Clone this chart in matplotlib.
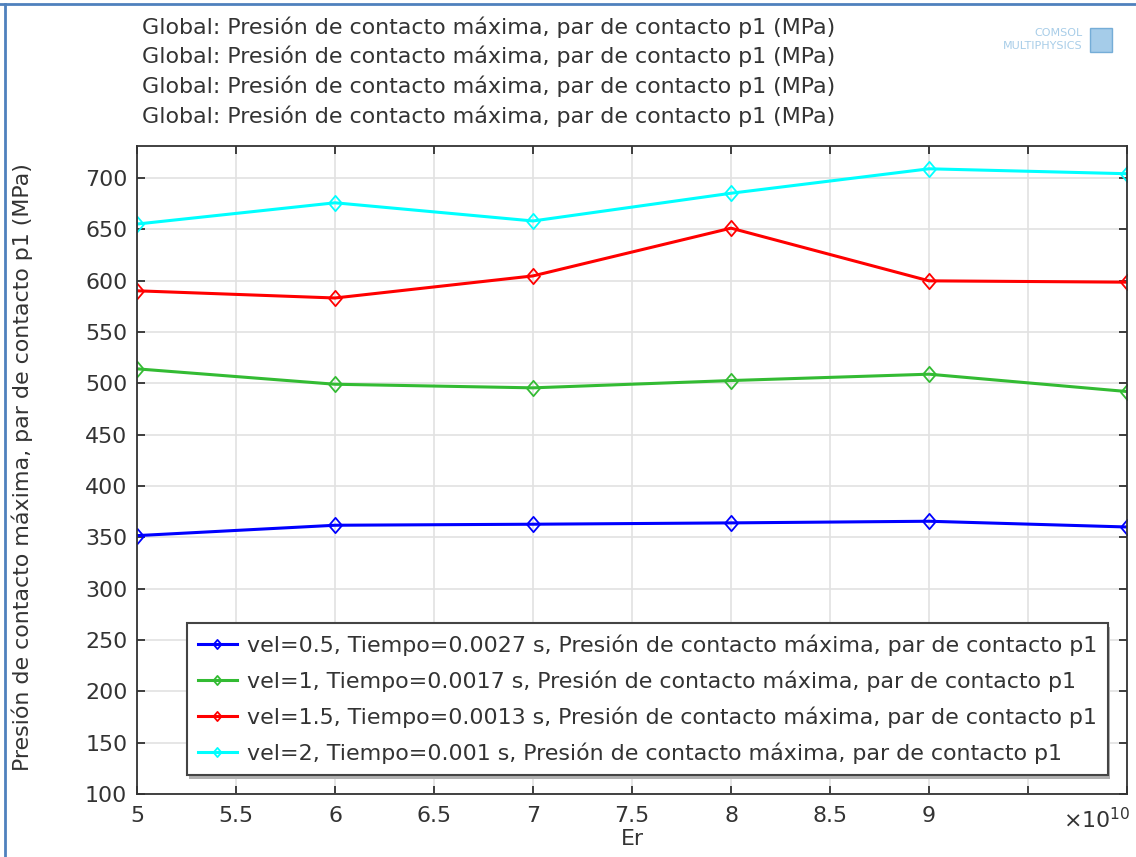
import matplotlib
matplotlib.use("Agg")
import matplotlib.pyplot as plt
from matplotlib.patches import Rectangle
from matplotlib.path import Path
import numpy as np

# Young's modulus values (Pa)
er = [5e10, 6e10, 7e10, 8e10, 9e10, 10e10]

# Maximum contact pressure (MPa) for each impact velocity
p_vel05 = [351.6, 361.7, 362.7, 364.0, 365.6, 360.0]
p_vel1 = [514.0, 499.0, 495.5, 502.6, 508.8, 491.9]
p_vel15 = [590.0, 583.0, 604.5, 651.0, 599.7, 598.4]
p_vel2 = [655.0, 675.7, 658.0, 685.0, 708.8, 704.0]

series_labels = [
    "vel=0.5, Tiempo=0.0027 s, Presión de contacto máxima, par de contacto p1",
    "vel=1, Tiempo=0.0017 s, Presión de contacto máxima, par de contacto p1",
    "vel=1.5, Tiempo=0.0013 s, Presión de contacto máxima, par de contacto p1",
    "vel=2, Tiempo=0.001 s, Presión de contacto máxima, par de contacto p1",
]
series_colors = ["#0000ff", "#33bb33", "#ff0000", "#00ffff"]

title_line = "Global: Presión de contacto máxima, par de contacto p1 (MPa)"
x_ticks = [5, 5.5, 6, 6.5, 7, 7.5, 8, 8.5, 9, 9.5, 10]
x_tick_labels = ["5", "5.5", "6", "6.5", "7", "7.5", "8", "8.5", "9", "", ""]
y_ticks = list(range(100, 701, 50))

plt.rcParams["font.family"] = ["DejaVu Sans"]
txt_color = "#333333"
fs = 15.9

# slightly flattened diamond marker
diamond = Path([(0, 1), (0.85, 0), (0, -1), (-0.85, 0), (0, 1)],
               [Path.MOVETO, Path.LINETO, Path.LINETO, Path.LINETO, Path.CLOSEPOLY])

fig = plt.figure(figsize=(11.36, 8.57), dpi=100)
ax = fig.add_axes([137 / 1136, 1 - 794 / 857, 990 / 1136, 648 / 857])

for vals, lab, col in zip([p_vel05, p_vel1, p_vel15, p_vel2], series_labels, series_colors):
    ax.plot(np.array(er) / 1e10, vals, color=col, lw=2.2, marker=diamond,
            markersize=11, markerfacecolor="none", markeredgewidth=1.3, label=lab)

ax.set_xlim(5, 10)
ax.set_ylim(100, 731)
ax.set_xticks(x_ticks)
ax.set_xticklabels(x_tick_labels)
ax.set_yticks(y_ticks)
ax.tick_params(direction="in", length=6, width=1.2, top=True, right=True,
               labelsize=fs, colors="#222222", labelcolor=txt_color)
ax.tick_params(axis="x", pad=9)
ax.tick_params(axis="y", pad=7)
ax.grid(True, color="#e2e2e2", lw=1.2)
ax.set_axisbelow(True)
for s in ax.spines.values():
    s.set_color("#333333")
    s.set_linewidth(1.3)

ax.set_xlabel("Er", fontsize=fs, color=txt_color, labelpad=2)
ax.set_ylabel("Presión de contacto máxima, par de contacto p1 (MPa)", fontsize=fs,
              color=txt_color, labelpad=0)
ax.yaxis.set_label_coords(-(137 - 33) / 990, (794 - 467) / 648)
ax.text(10.02, 100 - 13, r"$\times$10$^{10}$", fontsize=fs, color=txt_color,
        ha="right", va="top", transform=ax.transData, clip_on=False)

leg = ax.legend(loc="lower left", bbox_to_anchor=(0.0505, 0.029), borderaxespad=0,
                fontsize=fs, frameon=True, fancybox=False, shadow=False,
                handlelength=1.75, handletextpad=0.45, labelspacing=0.66,
                borderpad=0.5, markerscale=0.6, framealpha=1)
frame = leg.get_frame()
frame.set_edgecolor("#444444")
frame.set_facecolor("white")
frame.set_linewidth(1.5)
for t in leg.get_texts():
    t.set_color(txt_color)

# legend drop shadow
fig.canvas.draw()
bb = leg.get_window_extent().transformed(fig.transFigure.inverted())
shadow = Rectangle((bb.x0 + 2 / 1136, bb.y0 - 4 / 857), bb.width, bb.height,
                   transform=fig.transFigure, facecolor="#b0b0b0", edgecolor="none",
                   zorder=leg.get_zorder() - 0.1)
ax.add_artist(shadow)
shadow.set_transform(fig.transFigure)
shadow.set_clip_on(False)

# title block
for i in range(4):
    fig.text(142 / 1136, 1 - (27 + 29.7 * i) / 857, title_line, fontsize=fs,
             color=txt_color, ha="left", va="center")

# branding mark
fig.text(1083 / 1136, 1 - 33 / 857, "COMSOL", fontsize=8, color="#a8cde8",
         ha="right", va="center")
fig.text(1083 / 1136, 1 - 46 / 857, "MULTIPHYSICS", fontsize=8, color="#a8cde8",
         ha="right", va="center")
fig.patches.append(Rectangle((1090 / 1136, 1 - 52 / 857), 22 / 1136, 24 / 857,
                             transform=fig.transFigure, facecolor="#8fc0e4",
                             edgecolor="#5e9fd0", lw=1, alpha=0.8))

# window frame
fig.add_artist(plt.Line2D([0, 1], [1 - 4 / 857, 1 - 4 / 857], transform=fig.transFigure,
                          color="#4f81bd", lw=2))
fig.add_artist(plt.Line2D([5 / 1136, 5 / 1136], [0, 1 - 4 / 857],
                          transform=fig.transFigure, color="#4f81bd", lw=2))

fig.savefig("out.png", dpi=100)
